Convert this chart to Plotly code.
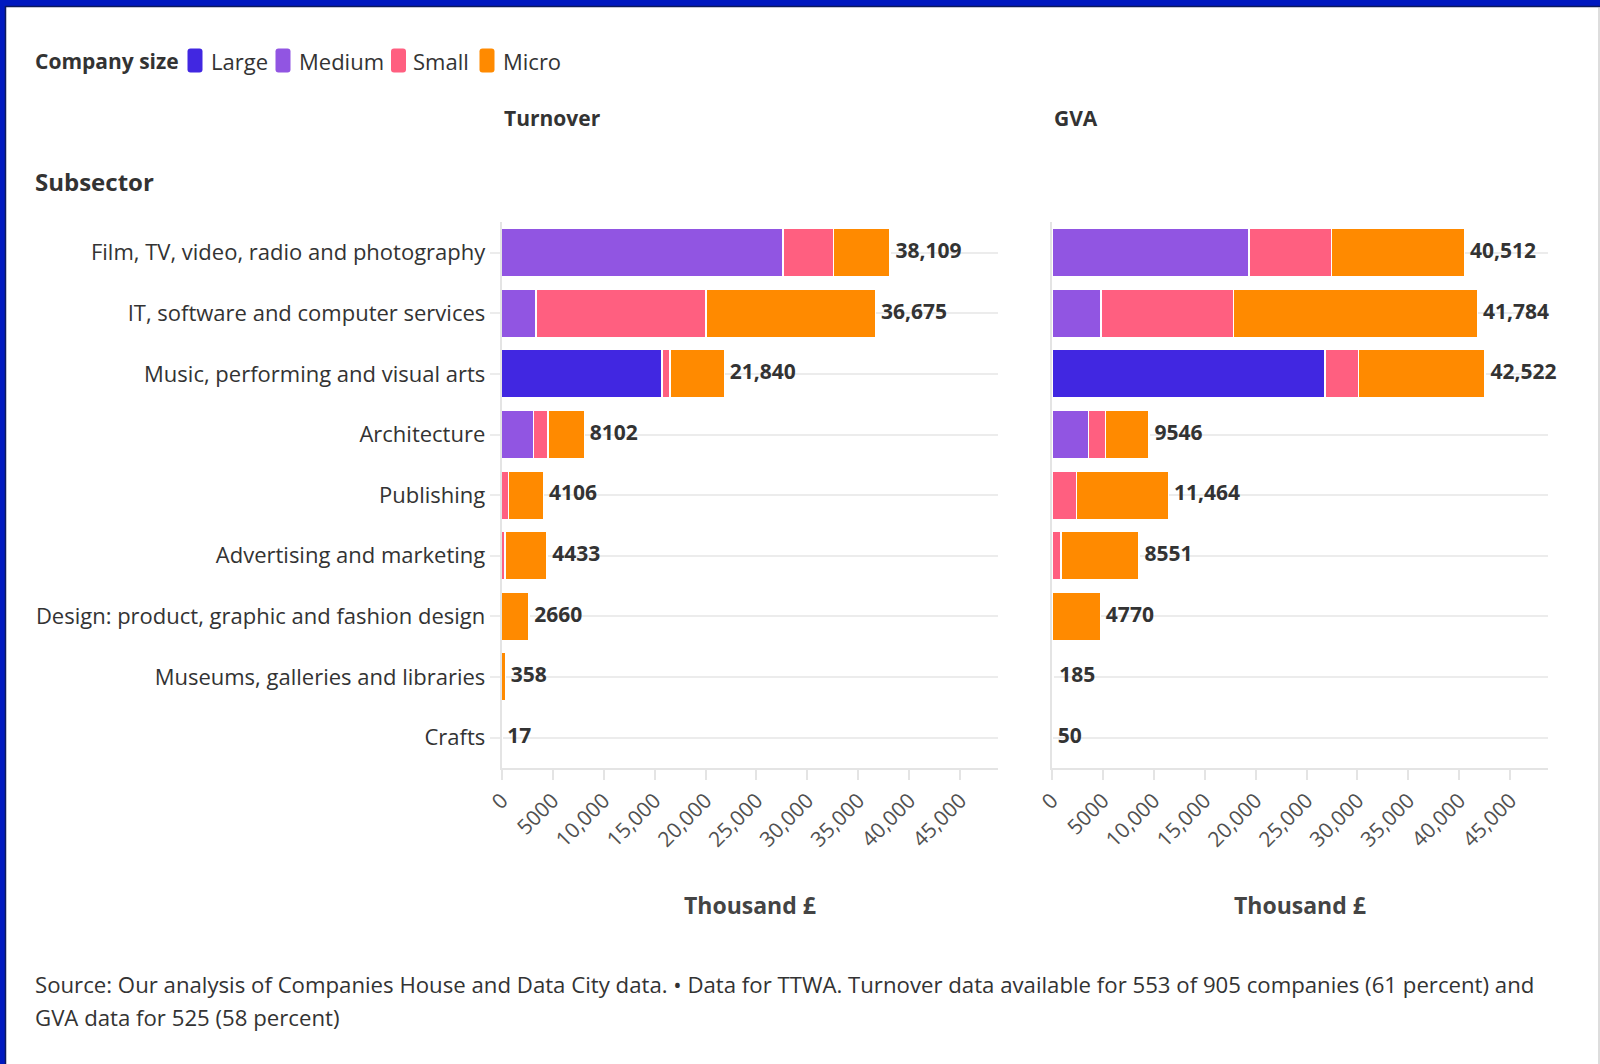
import plotly.graph_objects as go

# ---------------- data ----------------
categories = [
    "Film, TV, video, radio and photography",
    "IT, software and computer services",
    "Music, performing and visual arts",
    "Architecture",
    "Publishing",
    "Advertising and marketing",
    "Design: product, graphic and fashion design",
    "Museums, galleries and libraries",
    "Crafts",
]
size_names = ["Large", "Medium", "Small", "Micro"]
size_colors = ["#4127e1", "#9155e2", "#ff5f80", "#ff8a00"]

turnover_large = [0, 0, 15750, 0, 0, 0, 0, 0, 0]
turnover_medium = [27600, 3370, 0, 3100, 0, 0, 0, 0, 0]
turnover_small = [4970, 16700, 750, 1420, 650, 330, 0, 0, 0]
turnover_micro = [5539, 16605, 5340, 3582, 3456, 4103, 2660, 358, 17]
turnover_total = [38109, 36675, 21840, 8102, 4106, 4433, 2660, 358, 17]

gva_large = [0, 0, 26790, 0, 0, 0, 0, 0, 0]
gva_medium = [19360, 4820, 0, 3580, 0, 0, 0, 0, 0]
gva_small = [8110, 13010, 3290, 1700, 2400, 900, 0, 0, 0]
gva_micro = [13042, 23954, 12442, 4266, 9064, 7651, 4770, 185, 50]
gva_total = [40512, 41784, 42522, 9546, 11464, 8551, 4770, 185, 50]

x_tick_values = [0, 5000, 10000, 15000, 20000, 25000, 30000, 35000, 40000, 45000]
x_tick_labels = ["0", "5000", "10,000", "15,000", "20,000", "25,000", "30,000",
                 "35,000", "40,000", "45,000"]

panel_titles = ["Turnover", "GVA"]
axis_title = "Thousand £"
legend_title = "Company size"
row_title = "Subsector"
source_line1 = ("Source: Our analysis of Companies House and Data City data. • Data for TTWA. "
                "Turnover data available for 553 of 905 companies (61 percent) and")
source_line2 = "GVA data for 525 (58 percent)"

# ---------------- helpers ----------------
W, H = 1600, 1064
FONT = "Open Sans"


def px_x(v):
    return v / W


def px_y(v):
    return 1 - v / H


def fmt(v):
    return f"{v:,}" if v >= 10000 else str(v)


fig = go.Figure()

panels = [
    ("x", "y", [turnover_large, turnover_medium, turnover_small, turnover_micro], turnover_total),
    ("x2", "y2", [gva_large, gva_medium, gva_small, gva_micro], gva_total),
]

for xa, ya, series, totals in panels:
    for name, color, vals in zip(size_names, size_colors, series):
        fig.add_trace(go.Bar(
            x=[v if v else None for v in vals],
            y=categories,
            orientation="h",
            name=name,
            marker=dict(color=color, line=dict(color="white", width=1.5)),
            xaxis=xa, yaxis=ya,
            showlegend=False,
        ))
    fig.add_trace(go.Scatter(
        x=totals, y=categories, mode="text",
        text=[f"\u00a0<b>{fmt(t)}</b>" for t in totals],
        textposition="middle right",
        textfont=dict(family=FONT, size=21, color="#333333"),
        xaxis=xa, yaxis=ya, showlegend=False, cliponaxis=False,
        hoverinfo="skip",
    ))

axis_common_x = dict(
    range=[0, 48700],
    tickmode="array", tickvals=x_tick_values, ticktext=x_tick_labels,
    tickangle=-45,
    ticks="outside", ticklen=10, tickwidth=2, tickcolor="#e4e4e4",
    showline=True, linecolor="#e4e4e4", linewidth=2,
    showgrid=False, zeroline=False,
    tickfont=dict(family=FONT, size=21, color="#505050"),
    automargin=False, fixedrange=True,
)
axis_common_y = dict(
    type="category", autorange="reversed",
    showgrid=True, gridcolor="#ececec", gridwidth=2,
    showline=True, linecolor="#e4e4e4", linewidth=2,
    zeroline=False, automargin=False, fixedrange=True,
)

y_domain = [px_y(767.8), px_y(222.4)]

fig.update_layout(
    width=W, height=H,
    margin=dict(l=0, r=0, t=0, b=0),
    paper_bgcolor="white", plot_bgcolor="white",
    font=dict(family=FONT, color="#333333"),
    barmode="stack", bargap=0.2,
    showlegend=False,
    xaxis=dict(domain=[px_x(501.7), px_x(998)], anchor="y", **axis_common_x),
    xaxis2=dict(domain=[px_x(1051.8), px_x(1548)], anchor="y2", **axis_common_x),
    yaxis=dict(domain=y_domain, anchor="x",
               ticks="outside", ticklen=10, tickwidth=2, tickcolor="#ececec",
               ticklabelstandoff=0,
               tickfont=dict(family=FONT, size=22, color="#333333"),
               **axis_common_y),
    yaxis2=dict(domain=y_domain, anchor="x2", showticklabels=False, ticks="",
                **axis_common_y),
)

annotations = []
# panel titles
for title, xpx in zip(panel_titles, [501.7, 1051.8]):
    annotations.append(dict(
        text=f"<b>{title}</b>", x=px_x(xpx), y=px_y(118), xref="paper", yref="paper",
        xanchor="left", yanchor="middle", showarrow=False,
        font=dict(family=FONT, size=21, color="#333333")))
# axis titles
for xpx in [750, 1300]:
    annotations.append(dict(
        text=f"<b>{axis_title}</b>", x=px_x(xpx), y=px_y(905), xref="paper", yref="paper",
        xanchor="center", yanchor="middle", showarrow=False,
        font=dict(family=FONT, size=23, color="#444444")))
# row title
annotations.append(dict(
    text=f"<b>{row_title}</b>", x=px_x(33), y=px_y(181), xref="paper", yref="paper",
    xanchor="left", yanchor="middle", showarrow=False,
    font=dict(family=FONT, size=24, color="#333333")))
# legend title
annotations.append(dict(
    text=f"<b>{legend_title}</b>", x=px_x(33), y=px_y(61), xref="paper", yref="paper",
    xanchor="left", yanchor="middle", showarrow=False,
    font=dict(family=FONT, size=21, color="#333333")))

shapes = []


def rounded_rect(x0, y0, x1, y1, r):
    def P(x, y):
        return f"{px_x(x):.6f},{px_y(y):.6f}"
    return (f"M {P(x0 + r, y0)} L {P(x1 - r, y0)} Q {P(x1, y0)} {P(x1, y0 + r)} "
            f"L {P(x1, y1 - r)} Q {P(x1, y1)} {P(x1 - r, y1)} "
            f"L {P(x0 + r, y1)} Q {P(x0, y1)} {P(x0, y1 - r)} "
            f"L {P(x0, y0 + r)} Q {P(x0, y0)} {P(x0 + r, y0)} Z")


legend_marker_x = [187.5, 275.5, 391.0, 479.5]
legend_text_x = [208.6, 296.6, 411.4, 500.6]
for name, color, mx, tx in zip(size_names, size_colors, legend_marker_x, legend_text_x):
    shapes.append(dict(type="path", xref="paper", yref="paper",
                       path=rounded_rect(mx, 48.5, mx + 15, 72.5, 3),
                       fillcolor=color, line=dict(width=0)))
    annotations.append(dict(
        text=name, x=px_x(tx), y=px_y(61), xref="paper", yref="paper",
        xanchor="left", yanchor="middle", showarrow=False,
        font=dict(family=FONT, size=22, color="#333333")))

# source notes
annotations.append(dict(
    text=source_line1, x=px_x(33), y=px_y(984), xref="paper", yref="paper",
    xanchor="left", yanchor="middle", showarrow=False, align="left",
    font=dict(family=FONT, size=22.2, color="#333333")))
annotations.append(dict(
    text=source_line2, x=px_x(33), y=px_y(1017), xref="paper", yref="paper",
    xanchor="left", yanchor="middle", showarrow=False, align="left",
    font=dict(family=FONT, size=22.2, color="#333333")))

# frame: blue border top & left, thin grey line at right
shapes += [
    dict(type="rect", xref="paper", yref="paper", x0=0, x1=px_x(5), y0=0, y1=1,
         fillcolor="#0019c0", line=dict(width=0), layer="above"),
    dict(type="rect", xref="paper", yref="paper", x0=0, x1=1, y0=px_y(6), y1=1,
         fillcolor="#0019c0", line=dict(width=0), layer="above"),
    dict(type="line", xref="paper", yref="paper", x0=px_x(5.5), x1=px_x(5.5), y0=0, y1=px_y(6),
         line=dict(color="#0c1a5c", width=1.5)),
    dict(type="line", xref="paper", yref="paper", x0=px_x(5.5), x1=1, y0=px_y(6.5), y1=px_y(6.5),
         line=dict(color="#0c1a5c", width=1.5)),
    dict(type="line", xref="paper", yref="paper", x0=px_x(1599), x1=px_x(1599), y0=0, y1=px_y(7),
         line=dict(color="#bbbbbb", width=1)),
]

fig.update_layout(annotations=annotations, shapes=shapes)

fig.write_html(
    "out.html",
    config={"displayModeBar": False},
    post_script="document.body.style.margin='0';document.body.style.overflow='hidden';",
)
